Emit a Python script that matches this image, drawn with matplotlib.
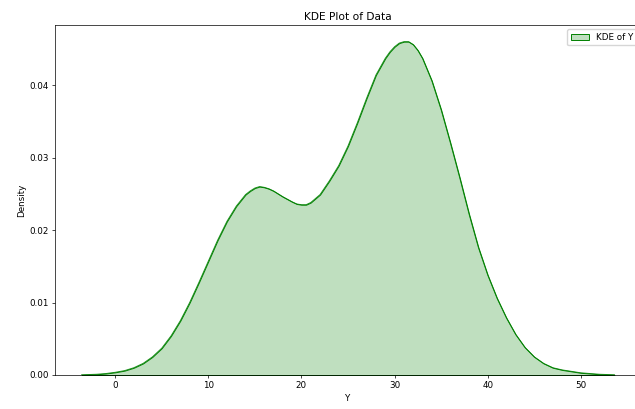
import matplotlib
matplotlib.use('Agg')
import matplotlib.pyplot as plt

# density curve
y_grid = [-3.6, -2, -1, 0, 1, 2, 3, 4, 5, 6, 7, 8, 9, 10, 11, 12, 13, 14, 14.5, 15,
          15.5, 16, 16.5, 17, 18, 19, 19.5, 20, 20.5, 21, 22, 23, 24, 25, 26, 27,
          28, 29, 29.5, 30, 30.5, 31, 31.5, 32, 32.5, 33, 34, 35, 36, 37, 38, 39,
          40, 41, 42, 43, 44, 45, 46, 47, 48, 49, 50, 51, 52, 53.6]
density = [0.00003, 0.0001, 0.0002, 0.00037, 0.0006, 0.0010, 0.0016, 0.0025, 0.0037,
           0.0054, 0.0075, 0.0100, 0.0128, 0.0157, 0.0186, 0.0212, 0.0233, 0.0249,
           0.0254, 0.0258, 0.0260, 0.0259, 0.0257, 0.0254, 0.0246, 0.0239, 0.0236,
           0.0235, 0.0235, 0.0238, 0.0249, 0.0268, 0.0289, 0.0316, 0.0348, 0.0382,
           0.0414, 0.0437, 0.0446, 0.0453, 0.0458, 0.0460, 0.0460, 0.0456, 0.0448,
           0.0437, 0.0406, 0.0366, 0.0320, 0.0272, 0.0222, 0.0176, 0.0138, 0.0106,
           0.0079, 0.0056, 0.0038, 0.0025, 0.0016, 0.0010, 0.0007, 0.0005, 0.0003,
           0.0002, 0.0001, 0.00003]

s = 0.635  # reference looks like a 10x6 figure scaled down

fig = plt.figure(figsize=(6.35, 4.09), dpi=100)
ax = fig.add_axes([55 / 635, 1 - 375 / 409, (641 - 55) / 635, (375 - 25) / 409])

ax.fill_between(y_grid, density, facecolor=(0, 0.5, 0, 0.25), edgecolor='green',
                linewidth=0.7, label='KDE of Y')
ax.plot(y_grid, density, color='green', linewidth=0.7, alpha=0.85)

ax.set_xlim(-6.46, 56.46)
ax.set_ylim(0, 0.0483)
ax.set_xticks([0, 10, 20, 30, 40, 50])
ax.set_yticks([0.0, 0.01, 0.02, 0.03, 0.04])
ax.set_yticklabels(['0.00', '0.01', '0.02', '0.03', '0.04'])

ax.tick_params(labelsize=10 * s, length=3.5 * s, width=0.8 * s, pad=3.5 * s)
for sp in ax.spines.values():
    sp.set_linewidth(0.8 * s)

ax.set_title('KDE Plot of Data', fontsize=12 * s, pad=6 * s)
ax.set_xlabel('Y', fontsize=10 * s, labelpad=4 * s)
ax.set_ylabel('Density', fontsize=10 * s, labelpad=4 * s)
ax.legend(loc='upper right', fontsize=10 * s)

fig.savefig('out.png', dpi=100)
